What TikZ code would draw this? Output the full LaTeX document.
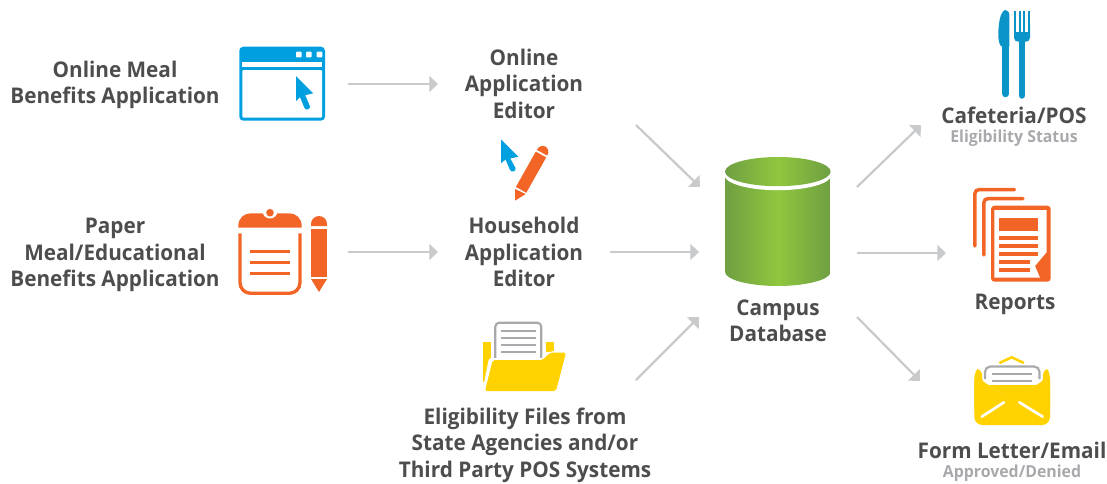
\documentclass[tikz,border=0pt]{standalone}
\usepackage{fontspec}
\setmainfont{Open Sans}[FakeStretch=0.96]
\usetikzlibrary{arrows.meta}
\definecolor{txt}{HTML}{4D4D4F}
\definecolor{sub}{HTML}{A7A9AC}
\definecolor{arr}{HTML}{C9CACC}
\definecolor{blu}{HTML}{00A0E0}
\definecolor{kni}{HTML}{0A94C8}
\definecolor{org}{HTML}{F26527}
\definecolor{yel}{HTML}{FFD200}
\definecolor{gd}{HTML}{6F9F42}
\definecolor{gm}{HTML}{8FC73E}
\tikzset{
  lab/.style={inner sep=0pt,align=center,text=txt,font=\fontsize{16.2}{19.9}\selectfont\bfseries},
  sublab/.style={inner sep=0pt,align=center,text=sub,font=\fontsize{12.4}{14}\selectfont\bfseries},
  flow/.style={draw=arr,line width=1.7pt,-{Triangle[length=6.5pt,width=12pt]}},
  grayln/.style={draw=sub,line width=1.6pt},
}
\begin{document}
\begin{tikzpicture}[x=0.75pt,y=-0.75pt]
\useasboundingbox (0,0) rectangle (1107,483);
% browser
\fill[blu,rounded corners=3pt] (239.3,46.7) rectangle (325,120.7);
\fill[white] (242.3,62) rectangle (322,66.7);
\fill[white,rounded corners=.8pt] (242.3,70) rectangle (322,117.6);
\foreach \x in {296,306,316.7}{\fill[white,rounded corners=.6pt] (\x,51.7) rectangle ++(5.6,5.6);}
\fill[blu,line join=round] (296,76) -- (313.3,93.3) -- (305.3,95.2) -- (310,106.5) .. controls (310.5,109.5) and (305.5,110.5) .. (304.5,108) -- (300,97) -- (296,101) -- cycle;
% clipboard
\fill[org] (238.3,227.7) -- (238.3,226) .. controls (238.3,218) and (244,213.3) .. (251,213.3) -- (289,213.3) .. controls (296,213.3) and (301.7,218) .. (301.7,226) -- (301.7,227.7) -- cycle;
\fill[white] (270,211) circle[radius=7.5];
\fill[org] (270,212.7) circle[radius=3.8];
\draw[org,line width=2.5pt,rounded corners=8pt] (240,233.3) -- (240,293.3) -- (300,293.3) -- (300,233.3);
\foreach \y in {251.7,262.3,273.3}{\draw[org,line width=2pt] (250,\y) -- (290,\y);}
\fill[org] (311,226) -- (311,224) .. controls (311,219.6) and (314.6,216) .. (319,216) .. controls (323.4,216) and (327,219.6) .. (327,224) -- (327,226) -- cycle;
\fill[org] (311,229) rectangle (327,277);
\fill[org] (311,279) -- (327,279) -- (319,292) -- cycle;
% cursor and tilted pencil
\fill[blu,line join=round] (501,139.3) -- (518.3,156.7) -- (510.3,158.5) -- (515.5,168) .. controls (516.5,171.5) and (511.5,173) .. (510,170) -- (505.5,159.5) -- (501,163.3) -- cycle;
\fill[org] (515,200.7) -- (515,189) -- (525.7,194) -- cycle;
\fill[org] (515.9,186.9) -- (526.3,192.7) -- (546.2,157.4) -- (535.8,151.6) -- cycle;
\fill[org] (536.8,149.8) .. controls (541.4,141.7) and (551.8,147.5) .. (547.2,155.6) -- cycle;
% folder
\fill[yel] (483.3,342.3) rectangle (491,381.7);
\fill[yel] (546,342.3) rectangle (554,351.7);
\fill[white,rounded corners=2pt] (494.3,321.7) rectangle (542.3,362);
\draw[grayln,rounded corners=3pt] (495.3,359) -- (495.3,322.7) -- (541.3,322.7) -- (541.3,359);
\foreach \y in {330.7,338,345,352.3}{\draw[grayln] (500.7,\y) -- (535.7,\y);}
\fill[white,rounded corners=2pt] (489,358) -- (544,358) -- (551,351) -- (568,351) -- (558,393) -- (482,393) -- cycle;
\fill[yel,rounded corners=1.5pt] (492.7,360) -- (542.7,360) -- (550,352.7) -- (566,352.7) -- (556,391) -- (485,391) -- cycle;
% cylinder
\path[left color=gd,right color=gd,middle color=gm] (725,172) -- (725,271.7) .. controls (725,280) and (750,286) .. (777.8,286) .. controls (805,286) and (830.7,280) .. (830.7,271.7) -- (830.7,172) -- cycle;
\fill[white] (777.8,175) ellipse[x radius=53.5,y radius=15.2];
\path[left color=gd,right color=gd,middle color=gm] (777.8,171.6) ellipse[x radius=52.8,y radius=14.6];
% fork and knife
\fill[kni] (1005,10) .. controls (1000,12) and (998.3,24) .. (998.3,36) .. controls (998.3,42) and (1000.5,46.7) .. (1002,46.7) -- (1009.3,46.7) -- (1009.3,14) .. controls (1009.3,12) and (1007.5,10) .. (1005,10) -- cycle;
\draw[kni,line width=5.5pt,line cap=round] (1005.6,44) -- (1005.6,93.6);
\fill[kni,rounded corners=3pt] (1014,20) -- (1014,41.7) -- (1030,41.7) -- (1030,20) -- cycle;
\fill[kni] (1014,10.7) rectangle (1030,25);
\foreach \x in {1016.2,1020.7,1025.2}{\fill[white] (\x,10) rectangle ++(2.6,21.7);}
\draw[kni,line width=5pt,line cap=round] (1022,40) -- (1022,95.4);
% reports
\draw[org,line width=2.6pt,line cap=round,rounded corners=3pt] (974.9,246) -- (974.9,189.6) -- (1014.5,189.6);
\draw[org,line width=2.6pt,line cap=round,rounded corners=3pt] (983.9,255) -- (983.9,198.6) -- (1023,198.6);
\fill[org,rounded corners=2.5pt] (991,205.7) rectangle (1050.7,281.7);
\fill[white] (994.3,210) -- (1046.7,210) -- (1046.7,252) -- (1035,266) -- (1040,277.7) -- (994.3,277.7) -- cycle;
\fill[org] (999,218) rectangle (1037.7,230.7);
\foreach \y in {236,244,252}{\fill[org] (999,\y) rectangle (1037.7,\y+4);}
\foreach \y in {260,268}{\fill[org] (999,\y) rectangle (1030,\y+4);}
% envelope
\draw[yel,line width=1.9pt,line cap=round] (1000,362.7) -- (1011.7,357.3) -- (1023.3,362.7);
\draw[grayln,rounded corners=4pt] (985,379) -- (985,366.5) -- (1039.5,366.5) -- (1039.5,379);
\foreach \y in {374,380.7}{\draw[grayln] (992.3,\y) -- (1031.7,\y);}
\fill[yel,rounded corners=1.5pt] (974.3,385) -- (974.3,376) -- (977,368.3) -- (982,372) -- (982,381) -- (1012.3,400) -- (1043,381) -- (1043,372) -- (1047.5,368.3) -- (1050,376) -- (1050,385) -- cycle;
\fill[yel,rounded corners=6pt] (974.3,378) -- (974.3,425) -- (1050,425) -- (1050,378) -- (1012.3,400) -- cycle;
\fill[yel] (974.3,380) -- (982,381) -- (1012.3,400) -- (1043,381) -- (1050,380) -- (1050,410) -- (974.3,410) -- cycle;
\draw[white,line width=2pt,line cap=round] (981.7,416.7) -- (1004,402.3);
\draw[white,line width=2pt,line cap=round] (1019.3,402.3) -- (1042.7,416.7);
% labels
\node[lab] (online) at (115,85) {Online Meal\\Benefits Application};
\node[lab] (paper) at (115,255) {Paper\\Meal/Educational\\Benefits Application};
\node[lab] (oae) at (524,83.5) {Online\\Application\\Editor};
\node[lab] (hae) at (524,252) {Household\\Application\\Editor};
\node[lab] (elig) at (525,445) {Eligibility Files from\\State Agencies and/or\\Third Party POS Systems};
\node[lab] (db) at (778,321) {Campus\\Database};
\node[lab] (caf) at (1014,115) {Cafeteria/POS};
\node[sublab] (cafs) at (1014,138.5) {Eligibility Status};
\node[lab] (rep) at (1015,304) {Reports};
\node[lab] (form) at (1012,450) {Form Letter/Email};
\node[sublab] (forms) at (1012,473) {Approved/Denied};
% connector ends
\coordinate (a1) at (348,84); \coordinate (b1) at (438,84);
\coordinate (a2) at (348,252); \coordinate (b2) at (438,252);
\coordinate (a3) at (636,125); \coordinate (b3) at (700,187);
\coordinate (a4) at (610,252); \coordinate (b4) at (699,252);
\coordinate (a5) at (636,380); \coordinate (b5) at (699,317);
\coordinate (a6) at (857,187); \coordinate (b6) at (921,125);
\coordinate (a7) at (857,253); \coordinate (b7) at (946,253);
\coordinate (a8) at (857,317); \coordinate (b8) at (920,381);
\foreach \i in {1,...,8}{\draw[flow] (a\i) -- (b\i);}
\end{tikzpicture}
\end{document}
